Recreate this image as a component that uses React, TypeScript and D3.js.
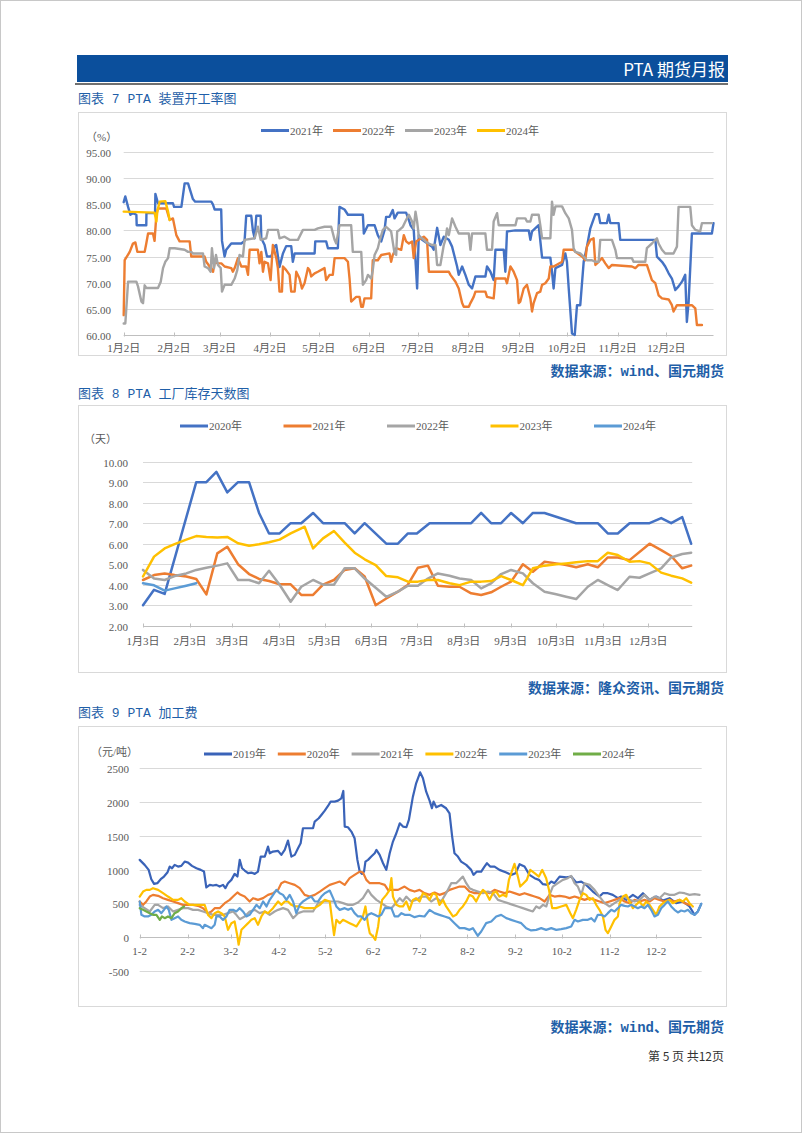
import React from 'react';
import * as d3 from 'd3';

type Pt = [number, number];

// ---------- Chart 7: PTA 装置开工率 (%), x = day of year ----------
const rateTickDays = [1, 32, 60, 91, 121, 152, 182, 213, 244, 274, 305, 335];
const rateTickLabels = ['1月2日', '2月2日', '3月2日', '4月2日', '5月2日', '6月2日', '7月2日', '8月2日', '9月2日', '10月2日', '11月2日', '12月2日'];
const rateYTicks = [60, 65, 70, 75, 80, 85, 90, 95];
const rateNames = ['2021年', '2022年', '2023年', '2024年'];

const rate2021: Pt[] = [[1,85.4],[2,86.5],[3.7,84.5],[5.1,83],[6.7,83.3],[8.8,83],[9,81],[14.9,81],[15,83.3],[20.3,83.3],[20.5,87],[22.1,85.2],[31.3,85.2],[32,84.5],[36.5,84.5],[38.5,89],[40.6,89],[43.6,86],[45,85.5],[54.9,85.5],[55.9,85],[57,84],[61,84],[61.5,78],[63.1,75],[64.1,76.3],[67.2,77.5],[73.4,77.5],[75.4,78],[76.4,82.8],[79.5,82.8],[80.5,80],[81.6,78.5],[82.6,82.8],[85.3,82.8],[85.7,78.5],[87.7,77.2],[89.2,75],[91.8,75],[93.9,77],[94.9,77.2],[96.9,73],[99,75.6],[101,77],[104.1,77],[105.1,74],[106.2,75.6],[118.5,75.6],[118.9,77.9],[125.6,77.9],[126.7,76.6],[132.8,76.6],[133.8,84.5],[136.9,84],[139,83],[148.2,83],[148.8,79.4],[151.3,81],[155.4,81],[157.4,79.1],[159.5,77.9],[161.5,80],[162.5,82.6],[164.6,82.6],[166.6,83.9],[167.7,82.3],[169.7,83.4],[174.8,83.4],[176.5,82],[177.5,81],[179.5,80.1],[181.6,68.9],[182.6,79.1],[184.7,78.2],[190.8,76.9],[191.8,76.3],[193.9,80.5],[195.9,77.2],[198,78.8],[201.1,78.2],[203.1,76.9],[206.2,73.1],[207.2,71.5],[209.3,73.1],[211.3,71.5],[213.4,69.6],[215.4,68.9],[217.5,71.2],[223.6,71.2],[224.6,73.1],[226.7,72.1],[228.7,70.5],[229.8,76.3],[234.9,76.3],[235.9,72.1],[236.9,79.8],[242,80],[250.3,80],[251.3,78.2],[252.3,79.8],[256.4,81],[258.5,74.8],[263.6,74.8],[264.6,72.1],[265.6,68.9],[266.7,72.8],[270.8,73.4],[272.8,75.6],[273.8,74],[274.9,68.9],[276.9,60.3],[278.6,60],[280,65.7],[282,65.7],[284.1,74],[286.1,76.9],[288.2,80.4],[291.3,83.1],[293.3,83.1],[294.3,81.4],[298.4,81.4],[299.5,83],[300.5,81.4],[305.6,81.4],[306.6,78.2],[328.2,78.2],[329.2,75],[332.3,74],[334.3,73.1],[336.4,71.8],[338.4,70.8],[340.5,68.6],[342.5,69.3],[344.6,70.2],[346.6,71.5],[347.6,62.5],[348.7,66.4],[350.7,79.4],[363,79.4],[364,81.4]];

const rate2022: Pt[] = [[1,63.8],[1.6,74.3],[4.7,75.9],[6.7,77.5],[8.2,77.7],[9.4,75.9],[13.9,75.9],[14.9,77.5],[16,79.4],[19,79.4],[20,78],[21.1,83],[22.1,84.2],[27.2,84.2],[29.3,82],[31.3,82.3],[33.4,79.1],[35.4,77.9],[41.6,77.9],[42.6,75],[50.8,75],[51.8,74],[53.9,73.1],[56,72.1],[57,74],[59,73.7],[61.1,73.7],[63.1,73.1],[67.2,72.8],[68.2,72.1],[69.3,72.8],[71.3,74.7],[73.4,73.1],[76.4,73.1],[77.5,71.5],[78.5,76.3],[83.6,76.3],[84.6,73.7],[85.7,75.9],[86.7,72.1],[87.7,74],[89.8,73.7],[91.4,70.5],[92.8,77.2],[94.9,74.7],[95.9,72.8],[96.9,68.3],[98.4,68.3],[99,73.1],[101,72.4],[103.1,71.5],[104.1,68.3],[106.2,68.3],[107.2,72.1],[109.2,70.8],[110.7,68.9],[112.3,69.9],[114.4,72.8],[115.4,72.4],[116.4,71.2],[118.5,71.8],[120.5,72.1],[124.6,72.8],[125.6,70.5],[127.7,71.5],[129.7,71.5],[130.8,74.7],[136.9,74.7],[139,74],[140,70.8],[141,66.4],[144.1,67.3],[146.1,67.3],[147.2,65.4],[148.2,65.4],[149.2,67],[153.3,67],[154.3,74.3],[157.4,74.3],[159.5,75.3],[164.6,75.6],[165.6,74],[166.6,75.3],[168.7,76.6],[171.8,76.3],[173.4,79.1],[174.8,77.9],[176.5,77.5],[178.5,77.9],[179.5,74.7],[181,77.9],[182.6,78.2],[185.7,78.8],[187.7,78.2],[188.8,72.1],[201.1,72.1],[202.1,71.5],[205.2,70.2],[207.2,68.9],[209.3,66.1],[210.3,65.4],[213.4,65.4],[214.4,66.1],[216.4,67.3],[217.5,68.3],[223.6,68.3],[224.6,67.3],[228.7,67],[229.8,70.8],[235.9,70.8],[236.9,69.9],[239,73.1],[241,72.1],[243.1,70.5],[244.1,66.1],[245.1,66.4],[247.2,68.9],[249.2,69.6],[251.3,67],[252.3,64.5],[253.3,66.1],[255.4,68],[257.4,68.3],[258.5,69.6],[260.5,69.9],[262.6,70.8],[263.6,73.1],[265.6,73.1],[270.8,74],[271.8,76.3],[277.9,76.3],[279,75.9],[283.1,75],[285.1,74.3],[286.1,76.9],[288.2,78.2],[290.2,78.5],[291.3,73.4],[293.3,74],[295.4,74.7],[297.4,73.7],[299.5,72.8],[301.5,73.4],[313.8,73.1],[315.9,72.8],[317.9,73.4],[323,73.4],[326.1,70.5],[328.2,69.9],[330.2,67.6],[332.3,67],[336.4,66.8],[338.4,65.7],[339.4,64.5],[341.5,65.7],[350.7,65.7],[352.8,65.1],[353.8,61.9],[356.9,61.9]];

const rate2023: Pt[] = [[1,62.2],[2,62.2],[3.7,70.2],[8.8,70.2],[9.8,69.3],[11.9,66.4],[12.9,66.1],[13.9,69.5],[14.9,69],[22.1,69],[23.8,70.2],[25.2,72.8],[26.6,74],[28.3,74.7],[29.3,76.6],[32.4,76.6],[38.5,76.3],[40.6,75.9],[42.6,75.9],[43.6,75.6],[49.8,75.6],[50.8,73.1],[52.9,72.8],[54.5,72.1],[55.3,76.6],[56.6,72.8],[57.8,75.3],[59,73.4],[60.7,72.8],[61.5,68.3],[63.1,69.6],[67.2,69.6],[69.3,70.8],[70.9,72.4],[72.3,75.3],[74.4,75],[75.4,78.2],[81.6,78.5],[83.6,80.7],[85.3,78.2],[88.7,78.5],[89.8,80.1],[95.9,80.1],[96.9,78.5],[100,78.8],[103.1,78.2],[108.2,78.2],[111.3,80.1],[118.5,80.1],[120.5,80.4],[124.6,80.7],[128.7,80.7],[130.8,78.2],[131.8,77.5],[133.8,81],[141,81],[142,75.9],[147.2,75.9],[148.2,69.6],[150.2,70.5],[151.3,71.5],[153.3,70.8],[154.3,72.4],[155.4,75.3],[157.4,76.6],[158.4,77.9],[160.5,80.1],[162.5,80.7],[164.6,80.1],[165.6,79.8],[167.7,75.6],[168.7,75.3],[169.3,79.8],[170.7,80.1],[172.8,80.7],[174.8,82],[176.5,83],[178.5,81.7],[179.5,80.4],[180.6,83.6],[181.6,81.7],[182.2,80.1],[182.6,78.8],[184.7,78.5],[186.7,77.9],[188.8,77.5],[190.8,77.2],[192.9,77.2],[193.9,73.4],[195.9,73.4],[198,77.2],[199,78.2],[200,80.4],[201.1,79.1],[203.1,82.3],[205.2,80.7],[207.2,79.4],[213.4,79.4],[214.4,76.3],[215.4,79.4],[223.6,79.4],[224.6,76.3],[227.7,76.3],[228.7,81.7],[230.8,83.3],[231.8,81],[242.1,81],[243.1,82.3],[248.2,82.3],[249.2,81.7],[251.3,81.7],[252.3,83],[256.4,83],[257.4,81],[258.5,78.5],[263.6,78.5],[264.6,85.5],[265.6,83],[266.7,84.6],[270.8,84.6],[272.8,83.3],[274.9,82.3],[276.9,80.1],[277.9,76.6],[279,75.9],[282,75.6],[284.1,75],[286.1,74.3],[289.2,74.3],[291.3,74],[293.3,74],[294.3,78.2],[301.5,78.2],[303.6,76.3],[304.6,74.7],[313.8,74.7],[314.8,74],[322,74],[323,76.6],[326.1,77.5],[329.2,78.5],[330.2,77.5],[332.3,76.3],[334.3,75.6],[339.4,75.6],[341.5,76.9],[342.5,84.5],[349.7,84.5],[350.7,81],[352.8,80.1],[355.8,79.8],[356.9,81.4],[363,81.4]];

const rate2024: Pt[] = [[1,83.6],[20,83.4],[21.1,81.7],[21.7,83.6],[23.1,85.5],[26.6,85.6],[28.3,83.6],[29.3,82]];

// ---------- Chart 8: PTA 工厂库存天数 (天) ----------
const invTickDays = [2, 33, 61, 92, 122, 153, 183, 214, 245, 275, 306, 336];
const invTickLabels = ['1月3日', '2月3日', '3月3日', '4月3日', '5月3日', '6月3日', '7月3日', '8月3日', '9月3日', '10月3日', '11月3日', '12月3日'];
const invYTicks = [2, 3, 4, 5, 6, 7, 8, 9, 10];
const invNames = ['2020年', '2021年', '2022年', '2023年', '2024年'];

const inv2020: Pt[] = [[2,3.0],[9.3,3.75],[16.3,3.55],[37.2,9.0],[43.9,9.0],[50.5,9.5],[57.7,8.5],[64.8,9.0],[72.1,9.0],[78.7,7.5],[85.3,6.5],[92.3,6.5],[99.6,7.0],[106.6,7.0],[114.4,7.5],[121,7.0],[135.3,7.0],[141.9,6.5],[148.5,7.0],[162.8,6.0],[170.5,6.0],[177.1,6.5],[183,6.5],[191.4,7.0],[218.9,7.0],[225.5,7.5],[232.1,7.0],[238.7,7.0],[245.3,7.5],[253.1,7.0],[259.7,7.5],[267.4,7.5],[288.3,7.0],[302.6,7.0],[309.2,6.5],[315.8,6.5],[323.6,7.0],[336.8,7.0],[344.5,7.25],[351.1,7.0],[358.4,7.3],[364.3,6.0]];
const inv2021: Pt[] = [[2,4.23],[9.3,4.47],[16.3,4.55],[22.9,4.47],[30.6,4.4],[37.2,4.28],[43.9,3.53],[51.1,5.53],[57.7,5.85],[64.8,5.0],[72.1,4.52],[78.7,4.28],[85.3,4.18],[92.3,4.02],[99.6,4.02],[106.6,3.5],[114.4,3.5],[121,4.0],[128.2,4.23],[135.3,4.72],[141.9,4.8],[148.5,4.4],[155.8,3.0],[162.8,3.33],[170.5,3.66],[177.1,4.0],[183.7,4.83],[190.3,4.93],[196.9,3.95],[204.6,3.9],[211.2,3.9],[218.9,3.58],[225.5,3.5],[232.1,3.63],[238.7,3.9],[245.3,4.15],[253.1,5.0],[259.7,4.63],[267.4,5.12],[275.1,5.04],[281.7,4.96],[288.3,4.85],[296,5.0],[302.6,4.85],[309.2,5.33],[315.8,5.33],[323.6,5.2],[336.8,6.0],[344.5,5.69],[351.1,5.4],[358.4,4.8],[364.3,4.93]];
const inv2022: Pt[] = [[2,4.72],[9.3,4.3],[16.3,4.23],[22.9,4.42],[30.6,4.55],[37.2,4.72],[43.9,4.83],[51.1,4.93],[57.7,5.04],[64.8,4.23],[72.1,4.23],[78.7,4.07],[85.3,4.68],[92.3,4.0],[99.6,3.17],[106.6,3.9],[114.4,4.23],[121,4.0],[128.2,4.0],[135.3,4.8],[141.9,4.8],[148.5,4.3],[155.8,3.85],[162.8,3.41],[170.5,3.66],[177.1,3.95],[183.7,3.95],[190.3,4.3],[196.9,4.55],[204.6,4.44],[211.2,4.3],[218.9,4.23],[225.5,3.82],[232.1,4.07],[238.7,4.52],[245.3,4.72],[253.1,4.55],[259.7,4.07],[267.4,3.66],[275.1,3.53],[281.7,3.41],[288.3,3.3],[296,3.9],[302.6,4.23],[309.2,3.98],[315.8,3.74],[323.6,4.39],[330.2,4.34],[336.8,4.55],[344.5,4.8],[351.1,5.33],[358.4,5.5],[364.3,5.56]];
const inv2023: Pt[] = [[2,4.4],[9.3,5.37],[16.3,5.77],[22.9,5.98],[30.6,6.2],[37.2,6.37],[43.9,6.33],[51.1,6.3],[57.7,6.33],[64.8,6.02],[72.1,5.9],[78.7,5.97],[85.3,6.07],[92.3,6.2],[99.6,6.5],[106.6,6.75],[108.8,6.83],[114.4,5.77],[121,6.26],[128.2,6.62],[135.3,6.05],[141.9,5.56],[148.5,5.24],[155.8,4.96],[162.8,4.42],[170.5,4.36],[177.1,4.15],[183.7,4.15],[190.3,4.23],[196.9,4.23],[204.6,4.07],[211.2,3.98],[218.9,4.15],[225.5,4.15],[232.1,4.18],[238.7,4.42],[245.3,4.23],[253.1,3.98],[259.7,4.8],[267.4,4.93],[275.1,5.0],[281.7,5.04],[288.3,5.09],[296,5.15],[302.6,5.15],[309.2,5.56],[315.8,5.45],[323.6,5.12],[330.2,5.15],[336.8,5.04],[344.5,4.59],[351.1,4.44],[358.4,4.31],[364.3,4.1]];
const inv2024: Pt[] = [[2,4.07],[9.3,3.97],[16.3,3.71],[22.9,3.82],[30.6,3.95],[37.2,4.07]];

// ---------- Chart 9: PTA 加工费 (元/吨) ----------
const feeTickDays = [1, 32, 60, 91, 121, 152, 182, 213, 244, 274, 305, 335];
const feeTickLabels = ['1-2', '2-2', '3-2', '4-2', '5-2', '6-2', '7-2', '8-2', '9-2', '10-2', '11-2', '12-2'];
const feeYTicks = [-500, 0, 500, 1000, 1500, 2000, 2500];
const feeNames = ['2019年', '2020年', '2021年', '2022年', '2023年', '2024年'];

const fee2019: Pt[] = [[1,1144],[4.2,1070],[6.8,996],[8.5,858],[10.3,789],[12.4,799],[14.6,858],[16.7,897],[18.9,956],[20.4,1045],[21.9,1020],[23.6,1070],[25.8,1045],[27.9,1055],[30.1,1119],[32.3,1104],[34.8,1055],[37.7,1020],[40.5,996],[42.6,971],[44.1,735],[46.3,774],[48.4,764],[50.6,774],[52.7,749],[54.9,774],[56.4,725],[58.1,799],[60.3,848],[62.4,937],[64.2,897],[65.7,1144],[67.2,1020],[68.9,986],[71.1,947],[73.2,956],[75.4,937],[77.5,971],[79.3,1193],[81.9,1193],[84,1341],[85.1,1242],[87.2,1267],[90.5,1277],[92.6,1218],[94.8,1292],[96.9,1430],[99.1,1193],[101.3,1218],[103.4,1316],[105.1,1390],[106.6,1612],[113.1,1612],[114.2,1711],[116.8,1760],[118.5,1809],[120.7,1873],[122.8,1942],[124.5,2007],[127.1,2007],[129.3,2021],[131.4,2056],[132.7,2164],[133.6,1637],[135.7,1627],[137.9,1563],[140,1464],[141.8,1144],[143.3,971],[144.8,937],[146.1,971],[147,1119],[148.7,1144],[150.8,1193],[153,1242],[154.1,1292],[156.2,1218],[158.4,1094],[160.5,996],[162.7,1242],[164.8,1415],[167,1538],[169.2,1686],[171.3,1637],[173.5,1627],[175.1,1735],[177.7,2080],[179.8,2278],[182.4,2440],[184.2,2352],[186.3,2154],[188.5,2021],[190,1908],[191.1,2007],[192.8,1923],[196,1957],[199.2,1908],[201.4,1834],[203.1,1489],[204.6,1242],[206.8,1193],[208.9,1119],[212.2,1070],[215.4,996],[216.9,922],[219.1,971],[221.9,971],[224,1045],[225.6,1094],[227.7,1045],[230.5,1045],[233.7,996],[238.1,956],[241.3,922],[244.1,947],[246.7,1080],[249.9,1045],[253.1,922],[256.4,873],[259.2,848],[261.8,784],[265,774],[267.2,823],[269.3,799],[272.6,897],[276.9,887],[280.1,897],[283.3,809],[286.6,823],[289.8,774],[294.1,675],[298.4,601],[300.6,651],[303.8,651],[307,626],[310.3,577],[312.4,601],[315.7,552],[320,626],[323.2,577],[326.5,651],[330.8,552],[335.1,601],[339.4,542],[343.7,577],[348,503],[352.3,528],[356.6,454],[359.9,330],[362,380],[364.2,493]];
const fee2020: Pt[] = [[1,528],[3.2,478],[5.3,528],[7.5,601],[9.6,626],[12.9,611],[16.1,577],[19.3,552],[22.6,528],[25.8,503],[29,478],[35.5,478],[38.7,463],[42,429],[45.2,355],[47.4,380],[49.5,429],[52.7,429],[56,503],[59.2,552],[61.4,601],[64.2,661],[66.3,626],[68.9,601],[72.1,528],[74.3,577],[77.5,552],[80.8,577],[84,626],[87.2,651],[90.5,700],[92.6,799],[94.8,823],[98,799],[101.3,774],[104.5,725],[107.7,626],[111,601],[114.2,626],[117.5,675],[120.7,725],[123.9,774],[127.1,799],[130.4,823],[133.6,774],[136.8,873],[140,922],[143.3,971],[145.4,956],[147.6,848],[149.8,799],[156.2,799],[159.5,774],[161.6,700],[165.9,700],[168.1,700],[172.3,749],[175.5,700],[178.8,675],[182,700],[185.2,651],[188.5,626],[191.7,661],[194.9,626],[198.2,651],[201.4,700],[204.6,725],[207.9,749],[211.1,749],[214.3,675],[217.6,651],[220.8,651],[224,675],[227.3,651],[230.5,700],[233.7,675],[237,651],[240.2,675],[243.4,651],[246.7,626],[249.9,651],[253.1,626],[256.4,601],[259.6,577],[262.9,528],[266.1,626],[269.3,601],[272.6,611],[275.8,601],[279,577],[282.3,601],[285.5,577],[288.7,552],[292,577],[295.2,552],[298.4,528],[301.7,503],[304.9,528],[308.1,552],[311.4,577],[314.6,528],[317.8,503],[321.1,552],[324.3,528],[327.5,552],[330.8,528],[334,577],[337.2,552],[340.5,528],[343.7,552],[346.9,528],[350.2,552],[353.4,503],[356.6,478]];
const fee2021: Pt[] = [[1,478],[4.2,429],[7.5,380],[10.7,478],[12.9,478],[16.1,429],[19.3,454],[22.6,380],[25.8,404],[29,429],[32.3,429],[35.5,404],[38.7,404],[42,380],[45.2,355],[48.4,330],[54.9,330],[58.1,355],[61.4,380],[63.5,330],[65.7,266],[68.9,306],[72.1,380],[75.4,404],[78.6,355],[81.9,380],[85.1,330],[88.3,380],[90.5,404],[93.7,429],[96.9,404],[100.2,281],[103.4,355],[106.6,380],[113.1,380],[116.4,503],[119.6,528],[129.3,528],[132.5,503],[135.8,478],[139,478],[142.2,513],[145.4,577],[148.7,700],[150.8,626],[154.1,552],[157.3,503],[160.5,454],[163.8,429],[167,513],[169.2,577],[171.3,528],[173.4,601],[176.6,528],[179.8,552],[183.1,601],[186.3,601],[189.5,528],[192.8,577],[196,528],[199.2,651],[202.5,799],[205.7,799],[207.9,848],[210,897],[212.2,799],[214.3,725],[216.5,700],[219.7,675],[223,651],[226.2,675],[229.4,651],[232.7,552],[235.9,528],[239.1,503],[242.4,478],[245.6,454],[248.8,429],[252.1,404],[255.3,380],[257.5,454],[259.6,429],[261.8,478],[264,454],[266.1,626],[268.2,749],[271.5,799],[274.7,848],[277.9,873],[280.1,907],[282.3,799],[284.4,749],[286.6,626],[288.7,799],[292,774],[295.2,700],[298.4,601],[301.7,503],[304.9,454],[308.1,503],[311.4,552],[314.6,601],[317.8,552],[321.1,528],[324.3,552],[327.5,626],[330.8,552],[334,601],[337.2,577],[340.5,651],[343.7,626],[346.9,626],[350.2,661],[353.4,651],[356.6,626],[359.9,636],[363.1,626]];
const fee2022: Pt[] = [[1,601],[3.2,675],[5.3,700],[7.5,700],[9.6,725],[12.9,700],[16.1,651],[19.3,601],[22.6,552],[25.8,552],[27.9,577],[30.1,528],[33.3,478],[43,478],[45.2,330],[47.4,281],[49.5,355],[51.7,380],[53.8,355],[56,306],[58.1,108],[60.3,207],[62.4,232],[64.2,10],[65,-113],[66.8,108],[68.9,158],[71.1,207],[73.2,256],[75.4,281],[77.5,182],[79.7,306],[81.9,380],[84,355],[87.2,429],[90.5,528],[92.6,478],[94.8,528],[96.9,528],[99.1,478],[101.3,454],[104.5,454],[107.7,429],[114.2,429],[117.5,478],[120.7,552],[123.9,528],[126.7,30],[128.2,256],[130.4,207],[132.5,256],[134.7,232],[136.8,207],[139,182],[141.2,158],[143.3,232],[145.4,306],[147,454],[148.7,182],[149.8,59],[151.9,10],[153.4,-39],[155.2,158],[156.3,355],[157.8,552],[160.5,626],[162.7,700],[163.8,873],[164.8,601],[167,478],[169.2,454],[171.3,454],[173.4,528],[175.5,404],[177.7,552],[179.8,577],[182,528],[184.2,651],[186.3,626],[188.5,552],[190.6,651],[192.8,626],[194.9,478],[197.1,552],[199.2,454],[201.4,380],[203.6,306],[205.7,330],[207.9,404],[210,454],[212.2,528],[214.3,626],[216.5,601],[218.6,528],[220.8,626],[223,700],[225.1,651],[227.3,552],[229.4,651],[231.6,675],[233.7,601],[235.9,626],[238.1,601],[239.8,848],[241.3,947],[243.4,1085],[245.6,897],[247.1,749],[249.3,799],[251.4,848],[253.6,996],[256.4,947],[259.2,897],[261.4,996],[263.9,873],[265.7,700],[267.8,429],[270.4,429],[273.6,454],[276.9,478],[279.5,355],[281.2,281],[283.3,404],[285.5,552],[287.7,651],[289.8,626],[292,552],[294.1,577],[296.3,478],[298.4,404],[300.6,306],[302.3,108],[303.8,59],[306,158],[308.1,256],[310.3,306],[311.4,503],[313.5,601],[315.7,626],[317.8,528],[320,429],[322.1,478],[324.3,528],[326.5,454],[328.6,528],[330.8,478],[332.9,404],[335.1,330],[337.2,454],[339.4,503],[341.5,528],[343.7,552],[345.8,503],[348,528],[350.2,552],[352.3,528],[354.5,577],[356.6,503],[358.8,454]];
const fee2023: Pt[] = [[1,528],[2.1,330],[4.2,306],[6.4,306],[8.5,330],[10.7,380],[12.9,404],[15,355],[16.7,404],[18.3,454],[19.8,404],[21.5,256],[23.6,281],[25.8,306],[27.9,256],[30.1,232],[33.3,207],[36.6,197],[39.8,182],[41.9,133],[43,182],[45.2,158],[47.4,133],[49.5,182],[50.6,306],[52.7,306],[54.9,256],[57.1,306],[59.2,404],[61.4,404],[63.5,380],[65.7,429],[67.8,380],[70,306],[72.1,330],[74.3,404],[76.5,478],[78.6,429],[80.8,528],[83,454],[85.1,552],[87.3,626],[89.4,700],[91.6,651],[93.7,626],[95.9,552],[98,626],[100.2,528],[102.3,355],[104.5,478],[106.6,528],[109.9,577],[112,601],[114.2,528],[116.4,528],[118.5,601],[120.7,651],[123.9,690],[126.1,577],[128.2,454],[130.4,404],[133.6,429],[135.8,404],[137.9,429],[140,355],[142.2,306],[144.3,306],[146.5,256],[148.7,330],[150.8,355],[153,330],[155.2,306],[157.3,330],[159.5,429],[163.8,429],[165.9,306],[168.1,306],[170.3,355],[172.4,330],[175.5,330],[178.8,296],[182,316],[185.2,306],[188.5,404],[191.7,355],[194.9,330],[198.2,306],[201.4,281],[204.6,207],[207.9,133],[211.1,133],[214.3,108],[216.5,133],[219.7,20],[221.9,84],[225.1,207],[228.4,232],[231.6,306],[234.8,330],[238.1,281],[241.3,256],[244.5,232],[247.8,207],[251,133],[254.2,99],[257.5,108],[260.7,133],[263.9,108],[267.2,133],[270.4,108],[273.6,118],[276.9,133],[280.1,158],[282.3,256],[284.4,232],[287.6,256],[290.9,256],[293.1,281],[295.2,232],[297.3,330],[299.5,330],[301.7,306],[303.8,355],[306,404],[308.1,380],[310.3,429],[312.4,478],[314.6,463],[316.8,454],[318.9,478],[321.1,454],[323.2,429],[325.4,454],[327.5,429],[329.7,478],[331.8,404],[334,306],[336.2,330],[338.3,429],[340.5,478],[342.6,528],[344.8,454],[346.9,404],[349.1,365],[351.2,394],[353.4,380],[355.6,404],[357.7,355],[359.9,330],[362,380],[364.2,493]];
const fee2024: Pt[] = [[1,429],[3.2,404],[5.3,380],[7.5,355],[9.6,330],[11.8,330],[14,256],[15.4,306],[17.2,281],[19.3,306],[21.5,281],[23.6,355],[25.8,380],[27.9,429],[29.7,454]];

// ---------- styling ----------
const SERIF = "'Liberation Serif', 'Times New Roman', 'DejaVu Serif', 'Noto Sans CJK SC', serif";
const CJK = "'Noto Sans CJK SC', sans-serif";
const MONO_CJK = "'Liberation Mono', 'Noto Sans CJK SC', monospace";
const TITLE_BLUE = '#1f5fa8';
const C_BLUE = '#4472c4';
const C_ORANGE = '#ed7d31';
const C_GRAY = '#a5a5a5';
const C_YELLOW = '#ffc000';
const C_LBLUE = '#5b9bd5';
const C_GREEN = '#70ad47';

interface SeriesDef { name: string; color: string; data: Pt[] }
interface ChartCfg {
  box: [number, number, number, number];
  xDomain: [number, number]; xRange: [number, number];
  yDomain: [number, number]; yRange: [number, number];
  yTicks: number[]; yFmt: (v: number) => string; yLabelX: number;
  tickDays: number[]; tickLabels: string[]; xLabelY: number; axisValue: number;
  unit: string; unitX: number; unitY: number;
  legendX: number; legendY: number; legendStep: number;
  series: SeriesDef[]; strokeW: number;
}

const axisText = { fontFamily: SERIF, fontSize: 11, fill: '#595959' } as const;

function Chart({ cfg }: { cfg: ChartCfg }) {
  const x = d3.scaleLinear().domain(cfg.xDomain).range(cfg.xRange);
  const y = d3.scaleLinear().domain(cfg.yDomain).range(cfg.yRange);
  const line = d3.line<Pt>().x(d => x(d[0])).y(d => y(d[1]));
  const [x0, x1] = cfg.xRange;
  const ay = Math.round(y(cfg.axisValue)) + 0.5;
  const [bx, by, bw, bh] = cfg.box;
  return (
    <g>
      <rect x={bx + 0.5} y={by + 0.5} width={bw} height={bh} fill="#fff" stroke="#d9d9d9" />
      {cfg.yTicks.map(t => {
        const yy = Math.round(y(t)) + 0.5;
        return (
          <g key={'g' + t}>
            {t !== cfg.axisValue && <line x1={x0} x2={x1} y1={yy} y2={yy} stroke="#d9d9d9" strokeWidth={1} />}
            <text x={cfg.yLabelX} y={yy + 4} textAnchor="end" style={axisText}>{cfg.yFmt(t)}</text>
          </g>
        );
      })}
      <line x1={x0} x2={x1} y1={ay} y2={ay} stroke="#bfbfbf" strokeWidth={1} />
      {cfg.tickDays.map((d, i) => (
        <g key={'t' + i}>
          <line x1={Math.round(x(d)) + 0.5} x2={Math.round(x(d)) + 0.5} y1={ay - 3} y2={ay + 1} stroke="#bfbfbf" />
          <text x={x(d)} y={cfg.xLabelY} textAnchor="middle" style={axisText}>{cfg.tickLabels[i]}</text>
        </g>
      ))}
      {cfg.series.map(s => (
        <path key={s.name} d={line(s.data) || ''} fill="none" stroke={s.color} strokeWidth={cfg.strokeW} strokeLinejoin="round" strokeLinecap="round" />
      ))}
      {cfg.series.map((s, i) => {
        const lx = cfg.legendX + i * cfg.legendStep;
        return (
          <g key={'l' + s.name}>
            <line x1={lx} x2={lx + 28} y1={cfg.legendY} y2={cfg.legendY} stroke={s.color} strokeWidth={3} />
            <text x={lx + 29} y={cfg.legendY + 4} style={axisText}>{s.name}</text>
          </g>
        );
      })}
      <text x={cfg.unitX} y={cfg.unitY} style={axisText}>{cfg.unit}</text>
    </g>
  );
}

const chart1: ChartCfg = {
  box: [78, 112, 648, 243],
  xDomain: [1, 364], xRange: [123.7, 713.5],
  yDomain: [60, 95], yRange: [335, 152],
  yTicks: rateYTicks, yFmt: v => v.toFixed(2), yLabelX: 111,
  tickDays: rateTickDays, tickLabels: rateTickLabels, xLabelY: 352, axisValue: 60,
  unit: '（%）', unitX: 86, unitY: 141,
  legendX: 261, legendY: 130.5, legendStep: 72,
  series: [
    { name: rateNames[0], color: C_BLUE, data: rate2021 },
    { name: rateNames[1], color: C_ORANGE, data: rate2022 },
    { name: rateNames[2], color: C_GRAY, data: rate2023 },
    { name: rateNames[3], color: C_YELLOW, data: rate2024 },
  ],
  strokeW: 2.4,
};

const chart2: ChartCfg = {
  box: [78, 405, 648, 267],
  xDomain: [2, 365], xRange: [143, 692.2],
  yDomain: [2, 10], yRange: [625.7, 461.7],
  yTicks: invYTicks, yFmt: v => v.toFixed(2), yLabelX: 128,
  tickDays: invTickDays, tickLabels: invTickLabels, xLabelY: 645, axisValue: 2,
  unit: '（天）', unitX: 84, unitY: 443,
  legendX: 180, legendY: 426, legendStep: 103.5,
  series: [
    { name: invNames[0], color: C_BLUE, data: inv2020 },
    { name: invNames[1], color: C_ORANGE, data: inv2021 },
    { name: invNames[2], color: C_GRAY, data: inv2022 },
    { name: invNames[3], color: C_YELLOW, data: inv2023 },
    { name: invNames[4], color: C_LBLUE, data: inv2024 },
  ],
  strokeW: 2.5,
};

const chart3: ChartCfg = {
  box: [78, 726, 648, 280],
  xDomain: [1, 364.5], xRange: [139.7, 701.7],
  yDomain: [-500, 2500], yRange: [970.9, 768.3],
  yTicks: feeYTicks, yFmt: v => String(v), yLabelX: 129,
  tickDays: feeTickDays, tickLabels: feeTickLabels, xLabelY: 955, axisValue: 0,
  unit: '（元/吨）', unitX: 91, unitY: 755.5,
  legendX: 204, legendY: 754, legendStep: 73.8,
  series: [
    { name: feeNames[0], color: '#3a63b8', data: fee2019 },
    { name: feeNames[1], color: C_ORANGE, data: fee2020 },
    { name: feeNames[2], color: C_GRAY, data: fee2021 },
    { name: feeNames[3], color: C_YELLOW, data: fee2022 },
    { name: feeNames[4], color: C_LBLUE, data: fee2023 },
    { name: feeNames[5], color: C_GREEN, data: fee2024 },
  ],
  strokeW: 2.2,
};

function Title({ y, text }: { y: number; text: string }) {
  return <text x={78} y={y} style={{ fontFamily: MONO_CJK, fontSize: 13, fill: TITLE_BLUE }}>{text}</text>;
}
function Source({ y, text }: { y: number; text: string }) {
  return <text x={724} y={y} textAnchor="end" style={{ fontFamily: MONO_CJK, fontSize: 14, fontWeight: 'bold', fill: TITLE_BLUE }}>{text}</text>;
}

export default function App() {
  return (
    <div style={{ position: 'absolute', left: 0, top: 0 }}>
      <svg width={802} height={1133} style={{ display: 'block' }}>
        <rect x={0} y={0} width={802} height={1133} fill="#fff" />
        <rect x={0.5} y={0.5} width={801} height={1132} fill="none" stroke="#c8c8c8" />
        <rect x={77} y={55} width={651} height={27} fill="#0b4f9c" />
        <line x1={75} x2={728} y1={84} y2={84} stroke="#404040" strokeWidth={1.5} />
        <text x={725} y={76} textAnchor="end" style={{ fontFamily: CJK, fontSize: 17, fill: '#fff' }}>PTA 期货月报</text>

        <Title y={103} text="图表 7 PTA 装置开工率图" />
        <Chart cfg={chart1} />
        <Source y={376} text="数据来源：wind、国元期货" />

        <Title y={398} text="图表 8 PTA 工厂库存天数图" />
        <Chart cfg={chart2} />
        <Source y={693} text="数据来源：隆众资讯、国元期货" />

        <Title y={717} text="图表 9 PTA 加工费" />
        <Chart cfg={chart3} />
        <Source y={1032} text="数据来源：wind、国元期货" />

        <text x={724} y={1061} textAnchor="end" style={{ fontFamily: CJK, fontSize: 12, fill: '#333' }}>第 5 页 共12页</text>
      </svg>
    </div>
  );
}
